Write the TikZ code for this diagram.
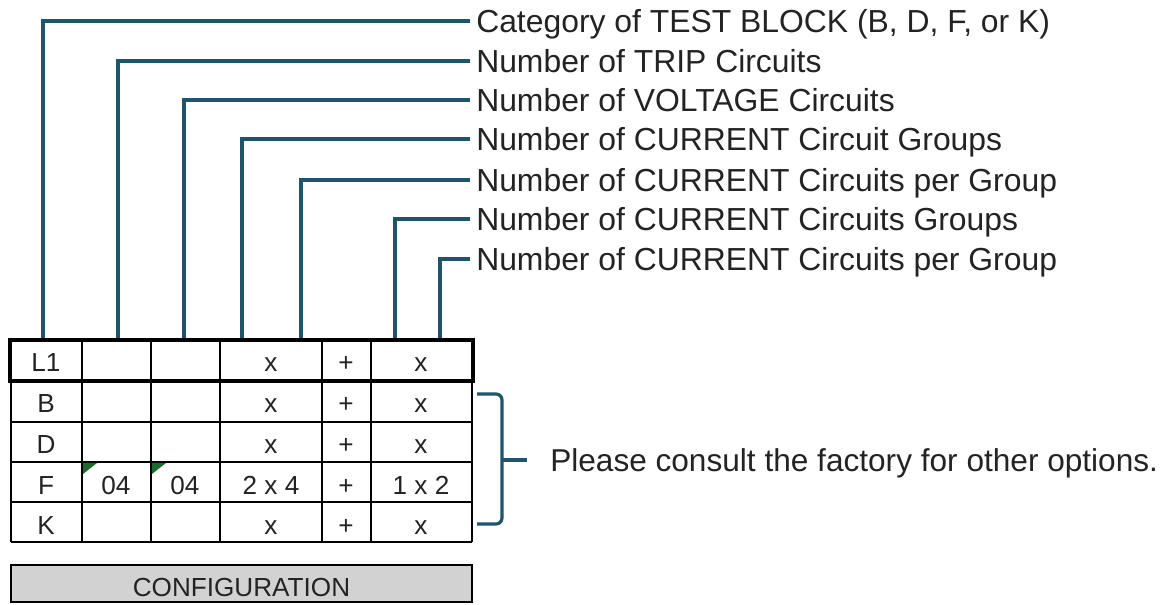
\documentclass[tikz,border=0pt]{standalone}
\usepackage{fontspec}
\setmainfont{Liberation Sans}
\definecolor{conncol}{RGB}{31,85,108}
\definecolor{txtcol}{RGB}{35,35,35}
\definecolor{markcol}{RGB}{25,110,45}
\definecolor{cfgcol}{RGB}{210,210,210}
\begin{document}
\begin{tikzpicture}[x=0.75pt,y=-0.75pt,
  lbl/.style={anchor=west,inner xsep=4.5pt,inner ysep=0pt,text height=17pt,text depth=0pt,
    text=txtcol,font=\fontsize{23.9}{28}\selectfont},
  cell/.style={anchor=base,inner sep=0pt,text=txtcol,font=\fontsize{19.6}{23}\selectfont},
  conn/.style={draw=conncol,line width=2.4pt},
  grid/.style={draw=black,line width=1.2pt},
  thickrow/.style={draw=black,line width=3pt},
  greenmark/.style={fill=markcol,draw=none}]
\useasboundingbox (0,0) rectangle (1167,605);
% labels
\node[lbl] (lab1) at (470,21) {Category of TEST BLOCK (B, D, F, or K)};
\node[lbl] (lab2) at (470,61) {Number of TRIP Circuits};
\node[lbl] (lab3) at (470,100) {Number of VOLTAGE Circuits};
\node[lbl] (lab4) at (470,139) {Number of CURRENT Circuit Groups};
\node[lbl] (lab5) at (470,180) {Number of CURRENT Circuits per Group};
\node[lbl] (lab6) at (470,219) {Number of CURRENT Circuits Groups};
\node[lbl] (lab7) at (470,259) {Number of CURRENT Circuits per Group};
% column tops
\coordinate (t1) at (43,340);
\coordinate (t2) at (118,340);
\coordinate (t3) at (184,340);
\coordinate (t4) at (242,340);
\coordinate (t5) at (301,340);
\coordinate (t6) at (395,340);
\coordinate (t7) at (440,340);
\draw[conn] (lab1.west) -| (t1);
\draw[conn] (lab2.west) -| (t2);
\draw[conn] (lab3.west) -| (t3);
\draw[conn] (lab4.west) -| (t4);
\draw[conn] (lab5.west) -| (t5);
\draw[conn] (lab6.west) -| (t6);
\draw[conn] (lab7.west) -| (t7);
% table grid
\foreach \yy in {422,462,502,542} \draw[grid] (11,\yy) -- (472,\yy);
\foreach \xx in {11,82,151,220,322,371,472} \draw[grid] (\xx,340) -- (\xx,542);
\draw[thickrow] (10,340) rectangle (473,381);
% green marks
\fill[greenmark] (83,463) -- (97,463) -- (83,474) -- cycle;
\fill[greenmark] (152,463) -- (166,463) -- (152,474) -- cycle;
% cell texts
\node[cell] (cL1) at (46,372) {L1};
\node[cell] (cL1d) at (271,372) {x};
\node[cell] (cL1e) at (346,372) {+};
\node[cell] (cL1f) at (421,372) {x};
\node[cell] (cB) at (46,413) {B};
\node[cell] (cBd) at (271,413) {x};
\node[cell] (cBe) at (346,413) {+};
\node[cell] (cBf) at (421,413) {x};
\node[cell] (cD) at (46,454) {D};
\node[cell] (cDd) at (271,454) {x};
\node[cell] (cDe) at (346,454) {+};
\node[cell] (cDf) at (421,454) {x};
\node[cell] (cF) at (46,494) {F};
\node[cell] (cFb) at (116,494) {04};
\node[cell] (cFc) at (185,494) {04};
\node[cell] (cFd) at (271,494) {2 x 4};
\node[cell] (cFe) at (346,494) {+};
\node[cell] (cFf) at (421,494) {1 x 2};
\node[cell] (cK) at (46,534) {K};
\node[cell] (cKd) at (271,534) {x};
\node[cell] (cKe) at (346,534) {+};
\node[cell] (cKf) at (421,534) {x};
% configuration box
\draw[draw=black,line width=1.2pt,fill=cfgcol] (11,565) rectangle (472,602);
\node[cell] (cfg) at (241.5,596) {CONFIGURATION};
% bracket
\coordinate (bt) at (477,394);
\coordinate (bb) at (477,524);
\coordinate (bm) at (502,460);
\coordinate (btip) at (527,460);
\draw[conn,rounded corners=4.5pt] (bt) -- (502,394) -- (502,524) -- (bb);
\draw[conn] (bm) -- (btip);
\node[lbl,inner xsep=0pt,font=\fontsize{23.7}{28}\selectfont] (note) at (550,460) {Please consult the factory for other options.};
\end{tikzpicture}
\end{document}
